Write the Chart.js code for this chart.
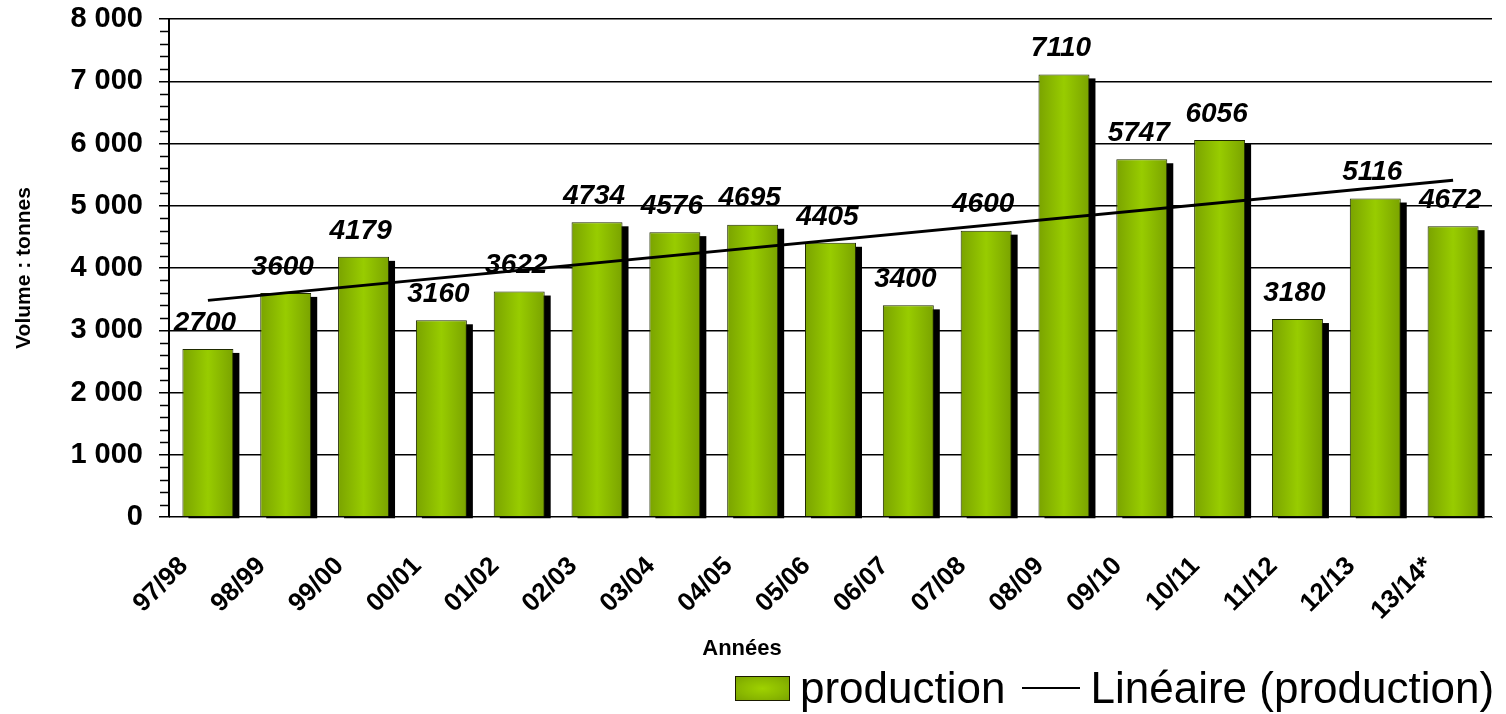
<!DOCTYPE html>
<html>
<head>
<meta charset="utf-8">
<script src="https://cdn.jsdelivr.net/npm/chart.js@4.4.1/dist/chart.umd.min.js"></script>
<style>
  body { margin: 0; background: #fff; }
  #wrap { position: relative; width: 1506px; height: 714px; font-family: "Liberation Sans", Arial, sans-serif; }
  #xTitle { position: absolute; left: 742px; top: 635px; transform: translateX(-50%); font-weight: bold; font-size: 22px; }
  #legend { position: absolute; left: 735px; top: 666px; height: 44px; display: flex; align-items: center; font-size: 44px; line-height: 44px; white-space: nowrap; }
  .swatch { width: 53px; height: 23px; border: 1.5px solid #1a1a00; background: radial-gradient(ellipse at center, #9fd200 0%, #8ab800 60%, #7aa300 100%); margin-right: 10px; }
  .lineKey { width: 58px; height: 0; border-top: 2.5px solid #000; margin: 0 10px 0 17px; }
</style>
</head>
<body>
<div id="wrap">
  <canvas id="prodChart"></canvas>
  <div id="xTitle">Années</div>
  <div id="legend">
    <span class="swatch"></span><span>production</span>
    <span class="lineKey"></span><span>Linéaire (production)</span>
  </div>
</div>
<script>
// Production annuelle (tonnes)
const seasons = ['97/98', '98/99', '99/00', '00/01', '01/02', '02/03', '03/04', '04/05', '05/06',
                 '06/07', '07/08', '08/09', '09/10', '10/11', '11/12', '12/13', '13/14*'];
const production = [2700, 3600, 4179, 3160, 3622, 4734, 4576, 4695, 4405,
                    3400, 4600, 7110, 5747, 6056, 3180, 5116, 4672];
// trend line ends (first and last season)
const trendEnds = [3480, 5410];
const yTicks = [0, 1000, 2000, 3000, 4000, 5000, 6000, 7000, 8000];

const trend = seasons.map((s, i) => i === 0 ? trendEnds[0] : (i === seasons.length - 1 ? trendEnds[1] : null));

function formatThousands(v) {
    return String(v).replace(/\B(?=(\d{3})+(?!\d))/g, ' ');
}

const BAR_PCT = 0.655;

function barGradient(context) {
    const chart = context.chart;
    const xs = chart.scales.x;
    if (!xs || !chart.chartArea) return '#8cb800';
    const cx = xs.getPixelForValue(context.dataIndex);
    const half = (xs.width / seasons.length) * BAR_PCT / 2;
    const g = chart.ctx.createLinearGradient(cx - half, 0, cx + half, 0);
    g.addColorStop(0, '#7aa300');
    g.addColorStop(0.5, '#98cc00');
    g.addColorStop(1, '#7aa300');
    return g;
}

// black drop shadow behind the bars, taken from the bar elements
const shadowPlugin = {
    id: 'barShadow',
    beforeDatasetsDraw(chart) {
        const c = chart.ctx;
        const meta = chart.getDatasetMeta(0);
        c.save();
        c.fillStyle = '#000';
        meta.data.forEach(bar => {
            const p = bar.getProps(['x', 'y', 'base', 'width'], true);
            c.fillRect(p.x - p.width / 2 + 6, p.y + 4, p.width, p.base - p.y - 2);
        });
        c.restore();
    }
};

// value labels above bars
const valueLabels = {
    id: 'valueLabels',
    afterDatasetsDraw(chart) {
        const c = chart.ctx;
        const meta = chart.getDatasetMeta(0);
        c.save();
        c.font = 'italic bold 28px "Liberation Sans", Arial, sans-serif';
        c.fillStyle = '#000';
        c.textAlign = 'center';
        c.textBaseline = 'bottom';
        meta.data.forEach((bar, i) => {
            c.fillText(String(production[i]), bar.x - 3, bar.y - 12);
        });
        c.restore();
    }
};

// minor ticks every 200 on the value axis
const minorTicks = {
    id: 'minorTicks',
    afterDraw(chart) {
        const ys = chart.scales.y;
        const c = chart.ctx;
        c.save();
        c.strokeStyle = '#000';
        c.lineWidth = 1.5;
        for (let v = 200; v < 8000; v += 200) {
            if (v % 1000 === 0) continue;
            const py = Math.round(ys.getPixelForValue(v)) + 0.5;
            c.beginPath();
            c.moveTo(ys.right - 9, py);
            c.lineTo(ys.right, py);
            c.stroke();
        }
        c.restore();
    }
};

const ctx = document.getElementById('prodChart');

new Chart(ctx, {
    data: {
        labels: seasons,
        datasets: [
            {
                type: 'bar',
                label: 'production',
                data: production,
                backgroundColor: barGradient,
                borderColor: '#1f2a00',
                borderWidth: 1,
                barPercentage: BAR_PCT,
                categoryPercentage: 1,
                order: 2
            },
            {
                type: 'line',
                label: 'Linéaire (production)',
                data: trend,
                spanGaps: true,
                borderColor: '#000',
                borderWidth: 3,
                pointRadius: 0,
                fill: false,
                order: 1
            }
        ]
    },
    options: {
        responsive: true,
        maintainAspectRatio: false,
        animation: false,
        layout: {
            padding: { top: 19, right: 14, left: 0, bottom: 54 }
        },
        plugins: {
            legend: { display: false },
            tooltip: { enabled: false }
        },
        scales: {
            x: {
                grid: { display: false, drawTicks: false },
                border: { display: true, color: '#808080', width: 1 },
                ticks: {
                    autoSkip: false,
                    minRotation: 45,
                    maxRotation: 45,
                    padding: 34,
                    labelOffset: -24,
                    color: '#000',
                    font: { family: '"Liberation Sans", Arial, sans-serif', size: 26, weight: 'bold' }
                },
                afterFit(scale) {
                    scale.height = 143;
                    scale.paddingLeft = 0;
                    scale.paddingRight = 0;
                }
            },
            y: {
                min: 0,
                max: 8000,
                afterBuildTicks(scale) {
                    scale.ticks = yTicks.map(v => ({ value: v }));
                },
                grid: { color: '#000', lineWidth: 1.5, tickLength: 10, tickColor: '#000' },
                border: { display: true, color: '#000', width: 2 },
                ticks: {
                    padding: 16,
                    color: '#000',
                    font: { family: '"Liberation Sans", Arial, sans-serif', size: 29, weight: 'bold' },
                    callback: v => formatThousands(v)
                },
                title: {
                    display: true,
                    text: 'Volume : tonnes',
                    color: '#000',
                    padding: { top: 12, bottom: 0 },
                    font: { family: '"Liberation Sans", Arial, sans-serif', size: 21, weight: 'bold' }
                },
                afterFit(scale) {
                    scale.width = 169;
                    scale.paddingTop = 0;
                    scale.paddingBottom = 0;
                }
            }
        }
    },
    plugins: [shadowPlugin, valueLabels, minorTicks]
});
</script>
</body>
</html>
